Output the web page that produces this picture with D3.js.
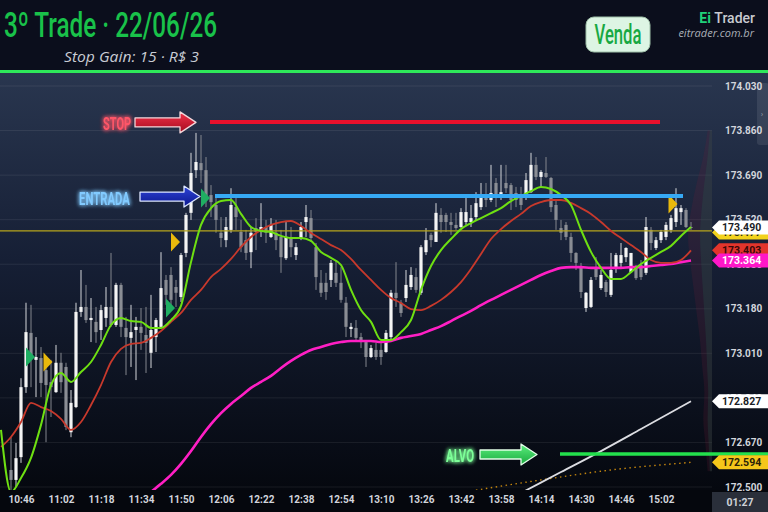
<!DOCTYPE html>
<html>
<head>
<meta charset="utf-8">
<script src="https://cdn.jsdelivr.net/npm/d3@7"></script>
<style>
html, body { margin: 0; padding: 0; background: #0b0e1c; }
svg { display: block; }
</style>
</head>
<body>
<div id="main"></div>
<script>
const ctx = {
    SVG_W: 768,
    SVG_H: 512,
    TOP: 73,
    BOTTOM: 490,
    RIGHT: 712,
};

// 2-minute candles from 10:42
const candleStart = "10:42";
const candleStepMin = 2;
const openP = [
    172.565, 172.527, 172.614, 172.881, 173.088, 172.985, 172.992, 172.946, 172.900, 172.862,
    172.974, 172.958, 172.709, 172.805, 173.168, 173.187, 173.137, 173.130, 173.099, 173.145,
    173.187, 173.118, 173.271, 173.107, 173.069, 173.099, 173.111, 173.080, 173.012, 173.072,
    173.111, 173.290, 173.309, 173.263, 173.225, 173.393, 173.546, 173.709, 173.736, 173.709,
    173.614, 173.576, 173.470, 173.442, 173.481, 173.568, 173.473, 173.442, 173.396, 173.488,
    173.473, 173.492, 173.454, 173.470, 173.454, 173.373, 173.454, 173.385, 173.450, 173.511,
    173.526, 173.415, 173.279, 173.279, 173.290, 173.317, 173.279, 173.203, 173.103, 173.107,
    173.072, 173.053, 172.996, 173.023, 173.023, 173.015, 173.072, 173.241, 173.203, 173.221,
    173.263, 173.301, 173.241, 173.396, 173.462, 173.435, 173.538, 173.538, 173.511, 173.500,
    173.492, 173.511, 173.511, 173.530, 173.568, 173.614, 173.595, 173.660, 173.614, 173.660,
    173.652, 173.622, 173.614, 173.606, 173.625, 173.729, 173.683, 173.698, 173.679, 173.576,
    173.488, 173.500, 173.454, 173.393, 173.339, 173.183, 173.187, 173.335, 173.259, 173.282,
    173.233, 173.335, 173.355, 173.377, 173.320, 173.339, 173.347, 173.317, 173.481, 173.412,
    173.442, 173.454, 173.481, 173.511, 173.549, 173.557, 173.492
];
const highP = [
    172.690, 172.668, 172.915, 173.203, 173.195, 173.072, 173.034, 172.996, 172.985, 173.042,
    173.012, 172.974, 172.870, 173.203, 173.328, 173.271, 173.221, 173.187, 173.195, 173.263,
    173.393, 173.279, 173.279, 173.149, 173.195, 173.149, 173.183, 173.187, 173.233, 173.145,
    173.396, 173.309, 173.339, 173.290, 173.393, 173.546, 173.775, 173.851, 173.843, 173.759,
    173.652, 173.606, 173.530, 173.530, 173.640, 173.614, 173.519, 173.481, 173.492, 173.526,
    173.583, 173.519, 173.526, 173.519, 173.481, 173.511, 173.492, 173.431, 173.511, 173.576,
    173.557, 173.431, 173.328, 173.317, 173.366, 173.366, 173.339, 173.225, 173.126, 173.137,
    173.088, 173.061, 173.042, 173.050, 173.050, 173.099, 173.252, 173.358, 173.214, 173.328,
    173.339, 173.335, 173.423, 173.488, 173.470, 173.583, 173.564, 173.546, 173.546, 173.546,
    173.564, 173.603, 173.576, 173.625, 173.660, 173.660, 173.729, 173.679, 173.729, 173.729,
    173.660, 173.645, 173.645, 173.698, 173.775, 173.759, 173.709, 173.759, 173.683, 173.595,
    173.519, 173.511, 173.470, 173.396, 173.355, 173.244, 173.301, 173.377, 173.328, 173.290,
    173.393, 173.393, 173.431, 173.415, 173.393, 173.347, 173.366, 173.530, 173.492, 173.454,
    173.481, 173.511, 173.538, 173.640, 173.576, 173.564, 173.511
];
const lowP = [
    172.489, 172.500, 172.592, 172.859, 172.881, 172.843, 172.843, 172.671, 172.767, 172.859,
    172.859, 172.717, 172.690, 172.801, 173.149, 173.126, 173.053, 173.050, 173.061, 173.111,
    173.111, 173.111, 173.072, 172.927, 172.958, 172.908, 173.023, 172.935, 172.954, 173.015,
    173.111, 173.195, 173.187, 173.187, 173.206, 173.377, 173.519, 173.679, 173.660, 173.568,
    173.530, 173.470, 173.415, 173.415, 173.470, 173.481, 173.396, 173.366, 173.335, 173.404,
    173.454, 173.431, 173.450, 173.404, 173.317, 173.366, 173.377, 173.366, 173.442, 173.454,
    173.435, 173.252, 173.225, 173.214, 173.263, 173.263, 173.203, 173.072, 173.072, 173.061,
    173.030, 172.958, 172.992, 172.985, 172.966, 173.012, 173.061, 173.187, 173.149, 173.206,
    173.252, 173.241, 173.233, 173.385, 173.415, 173.435, 173.470, 173.473, 173.462, 173.481,
    173.488, 173.500, 173.492, 173.519, 173.557, 173.568, 173.587, 173.568, 173.595, 173.622,
    173.557, 173.568, 173.557, 173.595, 173.622, 173.671, 173.645, 173.679, 173.549, 173.481,
    173.442, 173.442, 173.358, 173.328, 173.221, 173.168, 173.183, 173.290, 173.252, 173.225,
    173.225, 173.317, 173.335, 173.358, 173.317, 173.290, 173.290, 173.309, 173.404, 173.404,
    173.431, 173.442, 173.470, 173.492, 173.500, 173.488, 173.481
];
const closeP = [
    172.527, 172.610, 172.881, 173.091, 172.996, 172.996, 172.897, 172.889, 172.881, 172.974,
    172.900, 172.729, 172.821, 173.168, 173.187, 173.137, 173.145, 173.091, 173.175, 173.187,
    173.118, 173.271, 173.111, 173.072, 173.091, 173.111, 173.088, 173.050, 173.099, 173.137,
    173.259, 173.233, 173.214, 173.241, 173.385, 173.538, 173.698, 173.740, 173.709, 173.595,
    173.587, 173.519, 173.450, 173.492, 173.576, 173.530, 173.415, 173.393, 173.470, 173.473,
    173.492, 173.470, 173.500, 173.442, 173.377, 173.454, 173.415, 173.415, 173.492, 173.530,
    173.450, 173.301, 173.241, 173.244, 173.355, 173.279, 173.214, 173.111, 173.111, 173.069,
    173.053, 172.996, 173.030, 172.996, 172.996, 173.088, 173.241, 173.221, 173.164, 173.271,
    173.309, 173.252, 173.415, 173.442, 173.442, 173.546, 173.511, 173.511, 173.500, 173.488,
    173.549, 173.549, 173.526, 173.583, 173.603, 173.595, 173.622, 173.614, 173.625, 173.640,
    173.595, 173.595, 173.576, 173.671, 173.729, 173.683, 173.702, 173.683, 173.568, 173.519,
    173.470, 173.454, 173.393, 173.355, 173.244, 173.241, 173.290, 173.301, 173.309, 173.244,
    173.328, 173.385, 173.385, 173.412, 173.393, 173.297, 173.301, 173.492, 173.431, 173.442,
    173.473, 173.500, 173.526, 173.564, 173.564, 173.492, 173.490
];

// moving averages, one reading every 4 minutes from 10:38
const maStart = "10:38";
const maStepMin = 4;
const maFast = [
    172.718, 172.481, 172.534, 172.611, 172.737, 172.889, 172.935, 172.901, 172.939, 172.977,
    173.042, 173.118, 173.145, 173.133, 173.130, 173.107, 173.107, 173.137, 173.191, 173.358,
    173.500, 173.564, 173.591, 173.595, 173.542, 173.492, 173.477, 173.473, 173.458, 173.450,
    173.450, 173.439, 173.397, 173.374, 173.347, 173.252, 173.175, 173.130, 173.061, 173.061,
    173.091, 173.137, 173.252, 173.343, 173.404, 173.446, 173.484, 173.507, 173.526, 173.545,
    173.564, 173.591, 173.610, 173.629, 173.645, 173.637, 173.614, 173.576, 173.481, 173.397,
    173.336, 173.294, 173.294, 173.320, 173.351, 173.374, 173.397, 173.420, 173.458, 173.492
];
const maSlow = [
    172.653, 172.691, 172.748, 172.821, 172.805, 172.790, 172.760, 172.718, 172.748, 172.813,
    172.889, 172.977, 173.027, 173.046, 173.050, 173.069, 173.095, 173.130, 173.164, 173.214,
    173.252, 173.301, 173.332, 173.370, 173.416, 173.454, 173.481, 173.500, 173.511, 173.515,
    173.496, 173.469, 173.446, 173.423, 173.404, 173.370, 173.328, 173.290, 173.252, 173.221,
    173.202, 173.179, 173.175, 173.191, 173.214, 173.244, 173.282, 173.332, 173.389, 173.446,
    173.484, 173.515, 173.542, 173.572, 173.587, 173.595, 173.595, 173.584, 173.564, 173.542,
    173.511, 173.477, 173.450, 173.423, 173.397, 173.366, 173.355, 173.355, 173.366, 173.403
];
const maLong = [
    null, null, null, null, null, null, null, null, null, null,
    null, null, null, null, 172.451, 172.481, 172.512, 172.546, 172.588, 172.637,
    172.691, 172.740, 172.782, 172.817, 172.847, 172.878, 172.901, 172.924, 172.954, 172.981,
    173.004, 173.023, 173.034, 173.046, 173.053, 173.057, 173.057, 173.057, 173.053, 173.057,
    173.069, 173.076, 173.084, 173.099, 173.114, 173.133, 173.153, 173.172, 173.194, 173.214,
    173.233, 173.252, 173.271, 173.290, 173.309, 173.324, 173.336, 173.339, 173.339, 173.336,
    173.336, 173.336, 173.336, 173.339, 173.339, 173.343, 173.347, 173.351, 173.358, 173.364
];

// white band and dotted band (late session)
const whiteTimes = ["14:06", "14:22", "14:38", "14:54", "15:14"];
const whiteVals = [172.477, 172.557, 172.637, 172.721, 172.827];
const dotTimes = ["13:46", "14:14", "14:42", "15:14"];
const dotVals = [172.485, 172.527, 172.565, 172.594];

// trade levels
const stopPrice = 173.893;
const entryPrice = 173.610;
const targetPrice = 172.626;
const refPrice = 173.477;
const stopSpan = ["12:01:36", "15:01:36"];
const entrySpan = ["12:03:36", "15:10:48"];
const targetSpan = ["14:21:36", "15:22:24"];

// signal markers
const markerTimes = ["10:48", "10:55", "11:44", "11:46", "11:58", "15:05"];
const markerPrices = [172.996, 172.977, 173.183, 173.435, 173.603, 173.580];
const markerSides = ["buy", "sell", "buy", "sell", "buy", "sell"];

// volume profile
const profilePrices = [173.86, 173.76, 173.66, 173.56, 173.46, 173.36, 173.26, 173.16, 173.06, 172.96, 172.86, 172.76, 172.66, 172.56];
const profileVol = [4, 8, 14, 19, 22, 20, 17, 14, 11, 9, 7, 8, 6, 4];

const yTicks = [174.030, 173.860, 173.690, 173.520, 173.350, 173.180, 173.010, 172.840, 172.670, 172.500];
const xTicks = ["10:46", "11:02", "11:18", "11:34", "11:50", "12:06", "12:22", "12:38", "12:54",
    "13:10", "13:26", "13:42", "13:58", "14:14", "14:30", "14:46", "15:02"];

const parseT = d3.timeParse("%H:%M:%S");
const T = s => parseT(s.length === 5 ? s + ":00" : s);

function createViz() {
    const svg = d3.select("#main").append("svg")
        .attr("width", ctx.SVG_W)
        .attr("height", ctx.SVG_H)
        .style("font-family", "Roboto, 'Noto Sans', sans-serif");

    const x = d3.scaleTime().domain([T("10:37:36"), T("15:22:24")]).range([0, ctx.RIGHT]);
    const y = d3.scaleLinear().domain([172.500, 174.030]).range([487, 86]);

    const defs = svg.append("defs");
    const bg = defs.append("linearGradient").attr("id", "bg").attr("x1", 0).attr("y1", 0).attr("x2", 0).attr("y2", 1);
    bg.append("stop").attr("offset", 0).attr("stop-color", "#29364f");
    bg.append("stop").attr("offset", 0.45).attr("stop-color", "#161f35");
    bg.append("stop").attr("offset", 1).attr("stop-color", "#05080f");
    defs.append("clipPath").attr("id", "plot")
        .append("rect").attr("x", 0).attr("y", ctx.TOP).attr("width", ctx.RIGHT).attr("height", ctx.BOTTOM - ctx.TOP);
    const glow = defs.append("filter").attr("id", "glow").attr("x", "-50%").attr("y", "-50%").attr("width", "200%").attr("height", "200%");
    glow.append("feGaussianBlur").attr("stdDeviation", 2.2).attr("result", "b");
    const gm = glow.append("feMerge");
    gm.append("feMergeNode").attr("in", "b");
    gm.append("feMergeNode").attr("in", "b");
    gm.append("feMergeNode").attr("in", "SourceGraphic");
    function arrowGrad(id, c1, c2) {
        const g = defs.append("linearGradient").attr("id", id).attr("x1", 0).attr("y1", 0).attr("x2", 0).attr("y2", 1);
        g.append("stop").attr("offset", 0).attr("stop-color", c1);
        g.append("stop").attr("offset", 1).attr("stop-color", c2);
    }
    arrowGrad("gStop", "#f0324a", "#a50a1e");
    arrowGrad("gEntry", "#2f44d8", "#0a168c");
    arrowGrad("gAlvo", "#5cf07e", "#19a83e");

    // header
    svg.append("rect").attr("width", ctx.SVG_W).attr("height", ctx.TOP).attr("fill", "#0b0e1c");
    svg.append("rect").attr("y", ctx.TOP).attr("width", ctx.SVG_W).attr("height", ctx.BOTTOM - ctx.TOP).attr("fill", "url(#bg)");
    svg.append("rect").attr("y", ctx.BOTTOM).attr("width", ctx.SVG_W).attr("height", ctx.SVG_H - ctx.BOTTOM).attr("fill", "#05070d");

    svg.append("text").attr("x", 4).attr("y", 37)
        .attr("font-size", 35).attr("font-weight", 500).attr("fill", "#19c24a")
        .attr("textLength", 213).attr("lengthAdjust", "spacingAndGlyphs")
        .text("3º Trade · 22/06/26");
    svg.append("text").attr("x", 64).attr("y", 62)
        .attr("font-family", "'Open Sans', sans-serif").attr("font-style", "italic")
        .attr("font-size", 14).attr("fill", "#c9ccd4")
        .attr("textLength", 135).attr("lengthAdjust", "spacingAndGlyphs")
        .text("Stop Gain: 15 · R$ 3");

    svg.append("rect").attr("x", 586).attr("y", 17).attr("width", 64).attr("height", 35).attr("rx", 8)
        .attr("fill", "#ddf5e4").attr("stroke", "#9fbfa8").attr("stroke-width", 1);
    svg.append("text").attr("x", 618).attr("y", 44).attr("text-anchor", "middle")
        .attr("font-size", 27).attr("font-weight", 500).attr("fill", "#17a843")
        .attr("textLength", 47).attr("lengthAdjust", "spacingAndGlyphs")
        .text("Venda");

    const brand = svg.append("text").attr("x", 755).attr("y", 23).attr("text-anchor", "end")
        .attr("font-size", 14).attr("font-weight", 700);
    brand.append("tspan").attr("fill", "#20d27a").text("Ei ");
    brand.append("tspan").attr("fill", "#c8cad0").attr("font-weight", 500).text("Trader");
    svg.append("text").attr("x", 754).attr("y", 37).attr("text-anchor", "end")
        .attr("font-family", "'Open Sans', sans-serif").attr("font-style", "italic")
        .attr("font-size", 11).attr("fill", "#aaaeb6").text("eitrader.com.br");

    svg.append("rect").attr("y", 70).attr("width", ctx.SVG_W).attr("height", 3).attr("fill", "#2ee85a");

    // grid
    svg.append("g").selectAll("line").data(yTicks).enter().append("line")
        .attr("x1", 0).attr("x2", ctx.RIGHT)
        .attr("y1", d => y(d)).attr("y2", d => y(d))
        .attr("stroke", "rgba(255,255,255,0.08)").attr("stroke-width", 1);

    const plot = svg.append("g").attr("clip-path", "url(#plot)");

    // volume profile
    const pw = d3.scaleLinear().domain([0, d3.max(profileVol)]).range([0, 24]);
    const prof = profilePrices.map((p, i) => [p, profileVol[i]]);
    plot.append("path").datum(prof)
        .attr("d", d3.area().y(d => y(d[0])).x0(ctx.RIGHT).x1(d => ctx.RIGHT - pw(d[1])).curve(d3.curveMonotoneY))
        .attr("fill", "rgba(110,30,55,0.2)");
    plot.append("path").datum(prof)
        .attr("d", d3.area().y(d => y(d[0])).x0(ctx.RIGHT).x1(d => ctx.RIGHT - pw(d[1]) * 0.5).curve(d3.curveMonotoneY))
        .attr("fill", "rgba(35,95,80,0.25)");

    // candles
    const candles = openP.map((o, i) => ({
        t: d3.timeMinute.offset(T(candleStart), i * candleStepMin),
        o: o, h: highP[i], l: lowP[i], c: closeP[i],
    }));
    const cg = plot.append("g").selectAll("g").data(candles).enter().append("g");
    cg.append("line")
        .attr("x1", d => x(d.t)).attr("x2", d => x(d.t))
        .attr("y1", d => y(d.h)).attr("y2", d => y(d.l))
        .attr("stroke", d => d.c >= d.o ? "#d4d6da" : "#83868d").attr("stroke-width", 1);
    cg.append("rect")
        .attr("x", d => x(d.t) - 1.6).attr("width", 3.2)
        .attr("y", d => y(Math.max(d.o, d.c)))
        .attr("height", d => Math.max(1, Math.abs(y(d.o) - y(d.c))))
        .attr("fill", d => d.c >= d.o ? "#f4f4f4" : "#8a8d94");

    // reference line
    plot.append("line").attr("x1", 0).attr("x2", ctx.RIGHT)
        .attr("y1", y(refPrice)).attr("y2", y(refPrice))
        .attr("stroke", "#b6a51c").attr("stroke-width", 1.3);

    // band lines
    const line = d3.line().defined(d => d[1] != null).x(d => x(d[0])).y(d => y(d[1])).curve(d3.curveMonotoneX);
    plot.append("path").datum(dotTimes.map((t, i) => [T(t), dotVals[i]]))
        .attr("d", line).attr("fill", "none").attr("stroke", "#c4860e")
        .attr("stroke-width", 1.4).attr("stroke-dasharray", "1.5,3.5");
    plot.append("path").datum(whiteTimes.map((t, i) => [T(t), whiteVals[i]]))
        .attr("d", line).attr("fill", "none").attr("stroke", "#dcdde2").attr("stroke-width", 1.8);

    // moving averages
    const maT = i => d3.timeMinute.offset(T(maStart), i * maStepMin);
    const mas = [
        { vals: maLong, color: "#ff1fc4", w: 2.6 },
        { vals: maSlow, color: "#c8392c", w: 1.8 },
        { vals: maFast, color: "#6ee012", w: 2 },
    ];
    mas.forEach(m => {
        plot.append("path").datum(m.vals.map((v, i) => [maT(i), v]))
            .attr("d", line).attr("fill", "none")
            .attr("stroke", m.color).attr("stroke-width", m.w).attr("stroke-linejoin", "round");
    });

    // trade levels
    const levels = [
        { price: stopPrice, span: stopSpan, color: "#e8102c", w: 4 },
        { price: entryPrice, span: entrySpan, color: "#36a9f4", w: 4 },
        { price: targetPrice, span: targetSpan, color: "#23e04c", w: 3.5 },
    ];
    svg.append("g").selectAll("line").data(levels).enter().append("line")
        .attr("x1", d => x(T(d.span[0])))
        .attr("x2", d => d.span[1] === "15:22:24" ? ctx.SVG_W : x(T(d.span[1])))
        .attr("y1", d => y(d.price)).attr("y2", d => y(d.price))
        .attr("stroke", d => d.color).attr("stroke-width", d => d.w);

    // signal markers
    plot.append("g").selectAll("path")
        .data(markerTimes.map((t, i) => ({ t: T(t), p: markerPrices[i], s: markerSides[i] })))
        .enter().append("path")
        .attr("d", d => {
            const x0 = x(d.t), y0 = y(d.p);
            return `M${x0},${y0 - 9.5}L${x0 + 9},${y0}L${x0},${y0 + 9.5}Z`;
        })
        .attr("fill", d => d.s === "buy" ? "#1fae62" : "#e9b90c");

    // annotation arrows
    const notes = [
        { label: "STOP", price: stopPrice, start: stopSpan[0], gap: 14, len: 61, grad: "gStop", edge: "#f3d6da", txt: "#ff5668", tw: 28, tgap: 4 },
        { label: "ENTRADA", price: entryPrice, start: entrySpan[0], gap: 15, len: 60, grad: "gEntry", edge: "#dce6ff", txt: "#82cbff", tw: 51, tgap: 10 },
        { label: "ALVO", price: targetPrice, start: targetSpan[0], gap: 23, len: 57, grad: "gAlvo", edge: "#e2ffe8", txt: "#7dff98", tw: 28, tgap: 6 },
    ];
    notes.forEach(n => {
        const tx = x(T(n.start)) - n.gap, ty = y(n.price) + 0.5;
        const h = 4.5, H = 10.5, hl = 16;
        const pts = [[tx - n.len, ty - h], [tx - hl, ty - h], [tx - hl, ty - H], [tx, ty],
            [tx - hl, ty + H], [tx - hl, ty + h], [tx - n.len, ty + h]];
        svg.append("path").attr("d", "M" + pts.join("L") + "Z")
            .attr("fill", `url(#${n.grad})`).attr("stroke", n.edge).attr("stroke-width", 1.3)
            .attr("stroke-linejoin", "round");
        svg.append("text").attr("x", tx - n.len - n.tgap).attr("y", ty + 8)
            .attr("text-anchor", "end").attr("font-size", 19).attr("font-weight", 700)
            .attr("fill", n.txt).attr("filter", "url(#glow)")
            .attr("textLength", n.tw).attr("lengthAdjust", "spacingAndGlyphs")
            .text(n.label);
    });

    // axes
    const yAxis = svg.append("g").attr("transform", `translate(725,0)`)
        .call(d3.axisRight(y).tickValues(yTicks).tickFormat(d3.format(".3f")).tickSize(0).tickPadding(0));
    yAxis.select(".domain").remove();
    yAxis.selectAll("text").attr("fill", "#d2d5dc").attr("font-size", 10).attr("font-weight", 700)
        .attr("font-family", "Roboto, sans-serif");

    const xAxis = svg.append("g").attr("transform", `translate(0,${ctx.BOTTOM})`)
        .call(d3.axisBottom(x).tickValues(xTicks.map(T)).tickFormat(d3.timeFormat("%H:%M")).tickSize(0).tickPadding(6));
    xAxis.select(".domain").remove();
    xAxis.selectAll("text").attr("fill", "#d2d5dc").attr("font-size", 10).attr("font-weight", 700)
        .attr("font-family", "Roboto, sans-serif");

    // collapse handle
    svg.append("rect").attr("x", 757).attr("y", 83).attr("width", 12).attr("height", 62).attr("rx", 3)
        .attr("fill", "rgba(255,255,255,0.09)");
    svg.append("text").attr("x", 762).attr("y", 117).attr("text-anchor", "middle")
        .attr("font-size", 8).attr("fill", "#9aa0aa").text("›");

    // price tags
    const tags = [
        { v: refPrice, fill: "#f2d21c", ink: "#2a2a10", dy: 1.5 },
        { v: closeP[closeP.length - 1], fill: "#ffffff", ink: "#1a1d26", dy: 0 },
        { v: maSlow[maSlow.length - 1], fill: "#e3352c", ink: "#3a0808", dy: 0 },
        { v: maLong[maLong.length - 1], fill: "#ff17c8", ink: "#ffffff", dy: 0 },
        { v: whiteVals[whiteVals.length - 1], fill: "#ffffff", ink: "#1a1d26", dy: 0 },
        { v: dotVals[dotVals.length - 1], fill: "#f5c71a", ink: "#2a2208", dy: 0 },
    ];
    const tg = svg.append("g").selectAll("g").data(tags).enter().append("g")
        .attr("transform", d => `translate(0,${y(d.v) + d.dy})`);
    tg.append("path").attr("d", "M712,0L719,-7L768,-7L768,7L719,7Z").attr("fill", d => d.fill);
    tg.append("text").attr("x", 722).attr("y", 3.6).attr("font-size", 10.5).attr("font-weight", 700)
        .attr("fill", d => d.ink).text(d => d3.format(".3f")(d.v));

    // countdown
    svg.append("rect").attr("x", 712).attr("y", 492).attr("width", 56).attr("height", 20).attr("fill", "#2a2f3a");
    svg.append("text").attr("x", 740).attr("y", 506).attr("text-anchor", "middle")
        .attr("font-size", 10.5).attr("font-weight", 700).attr("fill", "#cfd2d8").text("01:27");
}

createViz();
</script>
</body>
</html>
